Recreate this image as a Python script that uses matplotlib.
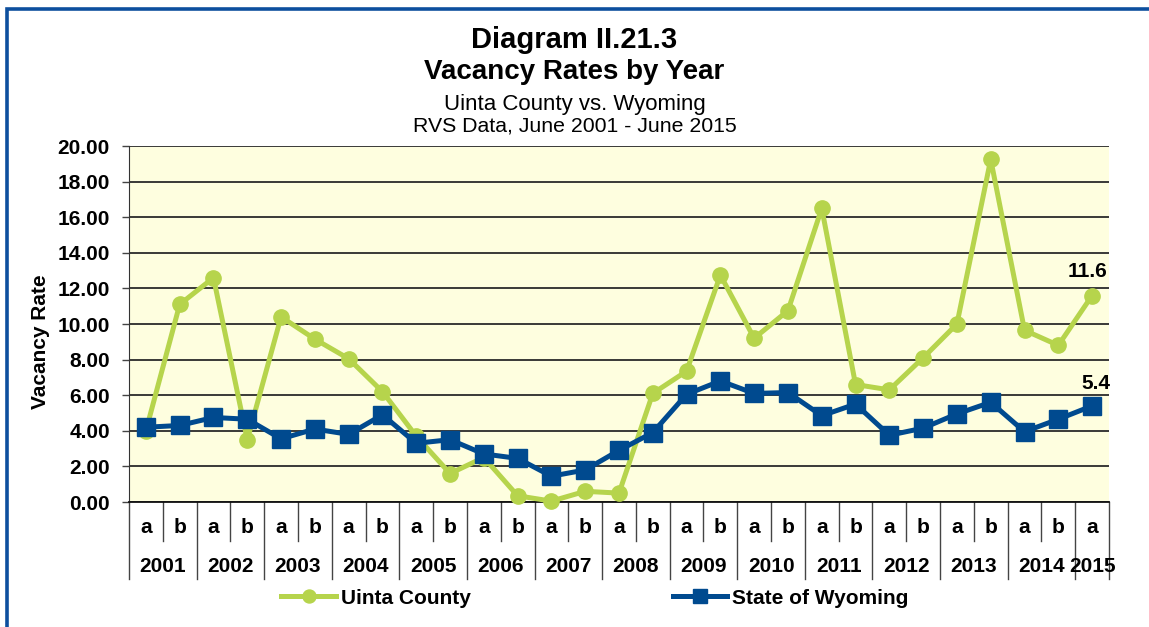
import numpy as np
import matplotlib
matplotlib.use('Agg')
from matplotlib import pyplot as plt
from matplotlib.patches import Rectangle

plt.rcParams['font.family'] = ['Liberation Sans', 'DejaVu Sans']

# half-year categories, 2001a .. 2015a
years = ['2001', '2002', '2003', '2004', '2005', '2006', '2007',
         '2008', '2009', '2010', '2011', '2012', '2013', '2014', '2015']
halves = ['a', 'b'] * 14 + ['a']

uinta = [4.0, 11.1, 12.6, 3.5, 10.4, 9.15, 8.05, 6.2, 3.7, 1.6,
         2.5, 0.35, 0.05, 0.6, 0.5, 6.1, 7.35, 12.75, 9.2, 10.75,
         16.5, 6.6, 6.3, 8.1, 10.0, 19.25, 9.65, 8.8, 11.6]
wyoming = [4.2, 4.3, 4.75, 4.65, 3.55, 4.1, 3.8, 4.9, 3.3, 3.5,
           2.7, 2.45, 1.45, 1.8, 2.9, 3.9, 6.05, 6.8, 6.1, 6.15,
           4.85, 5.5, 3.75, 4.15, 4.95, 5.6, 3.95, 4.65, 5.4]

green = '#B6D44C'
navy = '#004A8F'

W, H = 1149, 627
fig = plt.figure(figsize=(W / 100, H / 100), dpi=100)
fig.patch.set_facecolor('white')

# blue frame (only top and left edges visible)
fig.patches.append(Rectangle((7 / W, -0.1), 1.2, 1 - 8.5 / H + 0.1,
                             transform=fig.transFigure, fill=False,
                             edgecolor='#0D4F9E', linewidth=2.6))

ax = fig.add_axes([129 / W, 1 - 502 / H, 980 / W, 356 / H])
ax.set_facecolor('#FEFEDF')

x = np.arange(len(uinta)) + 0.5
ax.plot(x, uinta, color=green, lw=3.6, marker='o', markersize=11,
        label='Uinta County', zorder=3, clip_on=False)
ax.plot(x, wyoming, color=navy, lw=3.6, marker='s', markersize=12.5,
        label='State of Wyoming', zorder=4, clip_on=False)

ax.annotate('%.1f' % uinta[-1], (x[-1], uinta[-1]), xytext=(-3.5, 13),
            textcoords='offset points', ha='center', va='baseline',
            fontsize=15, fontweight='bold')
ax.annotate('%.1f' % wyoming[-1], (x[-1], wyoming[-1]), xytext=(3, 12),
            textcoords='offset points', ha='center', va='baseline',
            fontsize=15, fontweight='bold')

ax.set_xlim(0, len(uinta))
ax.set_ylim(0, 20)
ax.set_yticks(np.arange(0, 21, 2))
ax.set_yticklabels(['%.2f' % v for v in np.arange(0, 21, 2)],
                   fontsize=15, fontweight='bold')
ax.tick_params(axis='y', length=4.7, width=1, color='#444444', pad=9)
ax.set_xticks([])
ax.yaxis.grid(True, color='#2a2a2a', lw=1.3)
ax.set_axisbelow(True)
for s in ['top', 'right']:
    ax.spines[s].set_visible(False)
ax.spines['left'].set_color('#333333')
ax.spines['bottom'].set_color('#111111')
ax.spines['bottom'].set_linewidth(1.3)

# category axis: half-year letters and years
tr = ax.get_xaxis_transform()
for i, h in enumerate(halves):
    ax.text(i + 0.5, -0.073, h, transform=tr, ha='center', va='center',
            fontsize=15, fontweight='bold')
for k, yr in enumerate(years):
    xc = 2 * k + 1 if k < 14 else 28.5
    ax.text(xc, -0.18, yr, transform=tr, ha='center', va='center',
            fontsize=15, fontweight='bold')
for b in range(len(uinta) + 1):
    long_line = (b % 2 == 0) or b == len(uinta)
    ax.plot([b, b], [0, -0.2163 if long_line else -0.1096], transform=tr,
            color='#444444', lw=1, clip_on=False)

fig.text(41 / W, 1 - 342 / H, 'Vacancy Rate', rotation=90, ha='center',
         va='center', fontsize=15, fontweight='bold')

fig.text(0.5, 1 - 48 / H, 'Diagram II.21.3', ha='center', va='baseline',
         fontsize=21, fontweight='bold')
fig.text(0.5, 1 - 79 / H, 'Vacancy Rates by Year', ha='center', va='baseline',
         fontsize=20, fontweight='bold')
fig.text(0.5, 1 - 110 / H, 'Uinta County vs. Wyoming', ha='center',
         va='baseline', fontsize=16)
fig.text(0.5, 1 - 132 / H, 'RVS Data, June 2001 - June 2015', ha='center',
         va='baseline', fontsize=15.3)

leg = ax.legend(loc='center', bbox_to_anchor=(595 / W, 1 - 598 / H),
                bbox_transform=fig.transFigure, ncol=2, frameon=False,
                handlelength=2.6, handletextpad=0.25, columnspacing=9.7,
                markerscale=0.85, prop={'size': 15, 'weight': 'bold'})

plt.savefig('out.png', dpi=100)
